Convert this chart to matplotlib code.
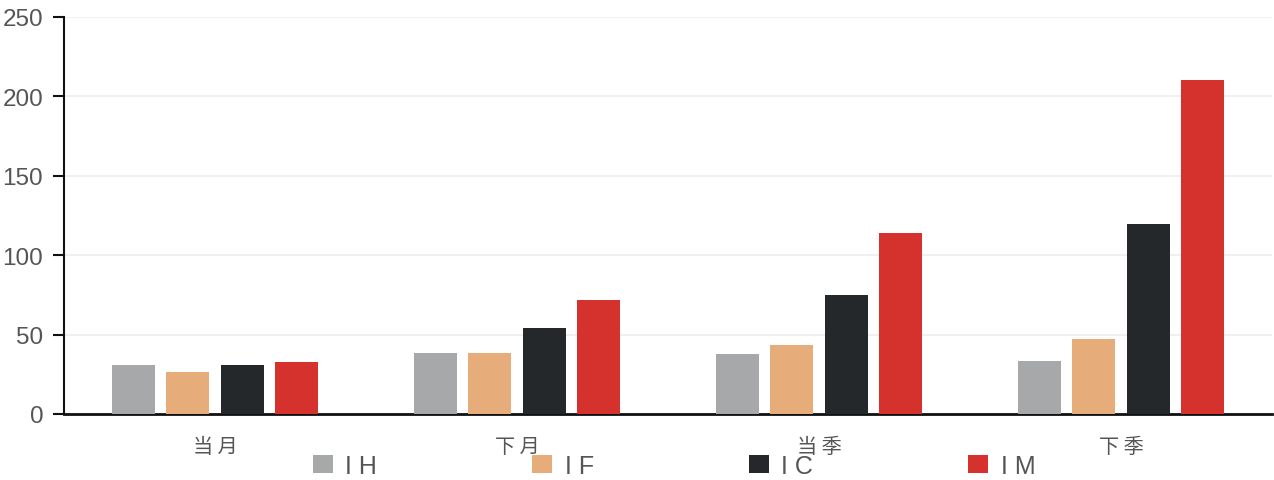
import matplotlib
matplotlib.use("Agg")
import matplotlib.pyplot as plt
from matplotlib.patches import Patch
import numpy as np

categories = ["当月", "下月", "当季", "下季"]
series_names = ["IH", "IF", "IC", "IM"]
IH = [31, 38.2, 37.8, 33.6]
IF = [26.4, 38.2, 43.5, 47.2]
IC = [30.6, 54.2, 75, 119.5]
IM = [32.7, 71.8, 114, 210.5]
yticks = [0, 50, 100, 150, 200, 250]

colors = ["#a7a8aa", "#e6ad7a", "#25282a", "#d5322d"]
data = [IH, IF, IC, IM]

fig = plt.figure(figsize=(12.74, 4.81), dpi=100)
ax = fig.add_axes([64/1274, 1-415/481, (1272-64)/1274, (415-18)/481])

x = np.arange(len(categories))
offsets = [-0.27, -0.09, 0.09, 0.27]
width = 0.142
for vals, off, c, name in zip(data, offsets, colors, series_names):
    ax.bar(x + off, vals, width=width, color=c, zorder=3, label=name)

ax.set_xlim(-0.5, 3.5)
ax.set_ylim(0, 250)
ax.set_yticks(yticks)
ax.yaxis.grid(True, color="#f0f0f0", linewidth=1.5, zorder=0)
ax.set_axisbelow(True)

for s in ["top", "right"]:
    ax.spines[s].set_visible(False)
ax.spines["left"].set_color("#111111")
ax.spines["left"].set_linewidth(1.5)
ax.spines["bottom"].set_color("#111111")
ax.spines["bottom"].set_linewidth(2)

ax.tick_params(axis="y", length=8, width=1.5, color="#111111", pad=7,
               labelsize=17.5, labelcolor="#555555")
for lbl in ax.get_yticklabels():
    lbl.set_family(["Liberation Sans", "DejaVu Sans"])

ax.set_xticks(x)
ax.set_xticklabels([" ".join(c) for c in categories],
                   family=["Noto Sans CJK SC", "DejaVu Sans"],
                   fontsize=14.5, color="#555555", fontweight="light")
ax.tick_params(axis="x", length=0, pad=16)

handles = [Patch(facecolor=c, edgecolor="none") for c in colors]
leg = fig.legend(handles, [" ".join(n) for n in series_names],
                 loc="center", bbox_to_anchor=(674/1274, 1-467/481),
                 ncol=4, frameon=False,
                 handlelength=0.8, handleheight=0.75, handletextpad=0.5,
                 columnspacing=6.2, borderpad=0,
                 prop={"family": ["Liberation Sans", "DejaVu Sans"], "size": 18})
for t in leg.get_texts():
    t.set_color("#555555")

fig.savefig("out.png", dpi=100)
